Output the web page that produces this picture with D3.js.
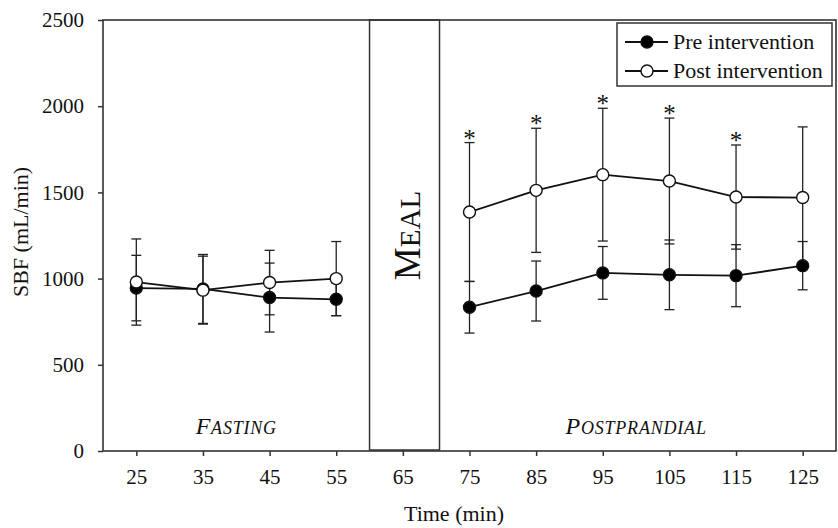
<!DOCTYPE html>
<html>
<head>
<meta charset="utf-8">
<script src="https://cdn.jsdelivr.net/npm/d3@7"></script>
<style>
  body { margin: 0; background: #fff; }
  svg text { font-family: "Liberation Serif", "Times New Roman", serif; fill: #111; }
</style>
</head>
<body>
<svg id="chart" width="838" height="528"></svg>
<script>
// valeurs
const times = [25, 35, 45, 55, 75, 85, 95, 105, 115, 125];
const phase = ["fast", "fast", "fast", "fast", "post", "post", "post", "post", "post", "post"];
const preMean = [945, 940, 890, 880, 834, 928, 1033, 1022, 1017, 1075];
const preSD = [190, 200, 200, 95, 150, 174, 153, 202, 180, 140];
const postMean = [980, 933, 977, 1000, 1386, 1512, 1603, 1566, 1473, 1470];
const postSD = [250, 197, 187, 215, 403, 360, 385, 365, 302, 410];
const signif = [false, false, false, false, true, true, true, true, true, false];
const xTicks = [25, 35, 45, 55, 65, 75, 85, 95, 105, 115, 125];
const yTicks = [0, 500, 1000, 1500, 2000, 2500];
const mealWindow = [60, 70.5];

const pLeft = 103, pRight = 836, pTop = 20, pBottom = 451;

const svg = d3.select("#chart");

const x = d3.scaleLinear().domain([20, 130]).range([pLeft, pRight]);
const y = d3.scaleLinear().domain([0, 2500]).range([pBottom, pTop]);

// axes
const xAxis = svg.append("g")
	.attr("transform", "translate(0," + pBottom + ")")
	.call(d3.axisBottom(x).tickValues(xTicks).tickFormat(d3.format("d")).tickSize(5).tickPadding(13));
const yAxis = svg.append("g")
	.attr("transform", "translate(" + pLeft + ",0)")
	.call(d3.axisLeft(y).tickValues(yTicks).tickFormat(d3.format("d")).tickSize(5).tickPadding(14));

for (const ax of [xAxis, yAxis]) {
	ax.select(".domain").remove();
	ax.selectAll("line").attr("stroke", "#333").attr("stroke-width", 1.5);
	ax.selectAll("text").style("font-size", "21px").attr("fill", "#111")
		.style("font-family", "'Liberation Serif', serif");
}

// cadre + zone repas
svg.append("rect")
	.attr("x", pLeft).attr("y", pTop)
	.attr("width", pRight - pLeft).attr("height", pBottom - pTop)
	.attr("fill", "none").attr("stroke", "#333").attr("stroke-width", 1.6);
svg.append("rect")
	.attr("x", x(mealWindow[0])).attr("y", pTop)
	.attr("width", x(mealWindow[1]) - x(mealWindow[0])).attr("height", pBottom - pTop - 1)
	.attr("fill", "none").attr("stroke", "#333").attr("stroke-width", 1.5);

// textes des phases
const meal = svg.append("text")
	.attr("transform", "translate(420," + y(1250) + ") rotate(-90)")
	.attr("text-anchor", "middle");
meal.append("tspan").style("font-size", "37px").text("M");
meal.append("tspan").style("font-size", "29px").text("EAL");

function smallCaps(label, cx) {
	const t = svg.append("text")
		.attr("x", cx).attr("y", 434)
		.attr("text-anchor", "middle")
		.style("font-style", "italic")
		.style("letter-spacing", "0.8px");
	t.append("tspan").style("font-size", "24px").text(label[0]);
	t.append("tspan").style("font-size", "18px").text(label.slice(1));
}
smallCaps("FASTING", x(40));
smallCaps("POSTPRANDIAL", x(100));

// titres des axes
svg.append("text")
	.attr("x", 454).attr("y", 521)
	.attr("text-anchor", "middle")
	.style("font-size", "22px")
	.text("Time (min)");
svg.append("text")
	.attr("transform", "translate(28,232) rotate(-90)")
	.attr("text-anchor", "middle")
	.style("font-size", "22px")
	.text("SBF (mL/min)");

// séries
const series = [
	{ mean: preMean, sd: preSD, fill: "#000" },
	{ mean: postMean, sd: postSD, fill: "#fff" }
];
const line = d3.line().x(d => x(d.t)).y(d => y(d.v));
const capW = 5;

for (const s of series) {
	const pts = times.map((t, i) => ({ t: t, v: s.mean[i], sd: s.sd[i], ph: phase[i] }));
	const g = svg.append("g");
	g.selectAll("line.bar").data(pts).enter().append("line")
		.attr("x1", d => x(d.t)).attr("x2", d => x(d.t))
		.attr("y1", d => y(d.v - d.sd)).attr("y2", d => y(d.v + d.sd))
		.attr("stroke", "#222").attr("stroke-width", 1.3);
	for (const sign of [-1, 1]) {
		g.selectAll("line.cap" + sign).data(pts).enter().append("line")
			.attr("x1", d => x(d.t) - capW).attr("x2", d => x(d.t) + capW)
			.attr("y1", d => y(d.v + sign * d.sd)).attr("y2", d => y(d.v + sign * d.sd))
			.attr("stroke", "#222").attr("stroke-width", 1.3);
	}
	s.pts = pts;
}

for (const s of series) {
	for (const ph of ["fast", "post"]) {
		svg.append("path")
			.datum(s.pts.filter(d => d.ph === ph))
			.attr("d", line)
			.attr("fill", "none").attr("stroke", "#111").attr("stroke-width", 1.8);
	}
}
for (const s of series) {
	svg.append("g").selectAll("circle").data(s.pts).enter().append("circle")
		.attr("cx", d => x(d.t)).attr("cy", d => y(d.v)).attr("r", 6)
		.attr("fill", s.fill).attr("stroke", "#111").attr("stroke-width", 1.4);
}

// astérisques
svg.append("g").selectAll("text").data(times.filter((t, i) => signif[i])).enter().append("text")
	.attr("x", d => x(d))
	.attr("y", d => { const i = times.indexOf(d); return y(postMean[i] + postSD[i]) + 4; })
	.attr("text-anchor", "middle")
	.style("font-size", "25px")
	.text("*");

// légende
const leg = svg.append("g");
leg.append("rect")
	.attr("x", 617).attr("y", 23).attr("width", 215).attr("height", 63)
	.attr("fill", "#fff").attr("stroke", "#333").attr("stroke-width", 1.5);
const labels = ["Pre intervention", "Post intervention"];
labels.forEach((lab, i) => {
	const ly = 42 + i * 29;
	leg.append("line").attr("x1", 625).attr("x2", 668).attr("y1", ly).attr("y2", ly)
		.attr("stroke", "#111").attr("stroke-width", 1.8);
	leg.append("circle").attr("cx", 647).attr("cy", ly).attr("r", 6)
		.attr("fill", series[i].fill).attr("stroke", "#111").attr("stroke-width", 1.4);
	leg.append("text").attr("x", 673).attr("y", ly + 7)
		.style("font-size", "22px").text(lab);
});
</script>
</body>
</html>
